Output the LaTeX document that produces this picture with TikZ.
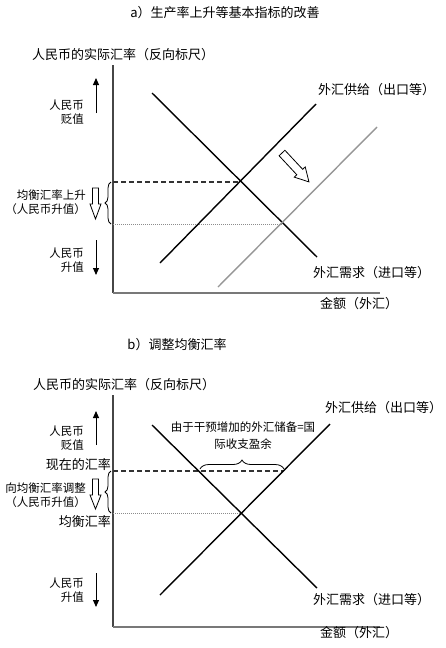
\documentclass[tikz,border=0pt]{standalone}
\usepackage{fontspec}
\setmainfont{Noto Sans CJK SC}
\usetikzlibrary{arrows.meta,decorations.pathreplacing}
\definecolor{axgray}{RGB}{120,120,120}
\definecolor{ygray}{RGB}{70,70,70}
\definecolor{shiftgray}{RGB}{150,150,150}
\definecolor{dotgray}{RGB}{140,140,140}
\begin{document}
\begin{tikzpicture}[x=1pt,y=-1pt,
  font=\fontsize{13}{15}\selectfont,
  lbl/.style={inner sep=0pt},
  rlbl/.style={inner sep=0pt, align=right, anchor=east},
  smalltxt/.style={font=\fontsize{11.5}{14.5}\selectfont},
  curve/.style={line width=1.4pt, black},
  shiftcurve/.style={line width=1.4pt, shiftgray},
  yax/.style={line width=1.3pt, ygray},
  xax/.style={line width=1.8pt, axgray},
  dashline/.style={line width=1.1pt, black!80, dash pattern=on 5pt off 3pt},
  dotline/.style={line width=1pt, dotgray, dash pattern=on 1pt off 1pt},
  smallarrow/.style={line width=1pt, -{Triangle[length=7pt,width=6pt]}},
  hollowline/.style={line width=0.8pt, black, line join=miter, fill=white},
  bracestyle/.style={line width=0.8pt, decorate, decoration={brace, amplitude=#1}},
  bracestyle/.default=6pt
]
\useasboundingbox (0,0) rectangle (446,648);

% ================= Panel a =================
\node[lbl] (ta) at (225,13) {a）生产率上升等基本指标的改善};
\node[lbl, anchor=west] (yla) at (32,55) {人民币的实际汇率（反向标尺）};
\coordinate (ya) at (113,65);
\coordinate (oa) at (113,293);
\coordinate (xa) at (380,293);
\draw[yax] (ya) -- (oa);
\draw[xax] (oa) -- (xa);

\coordinate (d1s) at (152,93);  \coordinate (d1e) at (317,257);
\coordinate (s1s) at (160,263); \coordinate (s1e) at (316,104);
\coordinate (s2s) at (218,287); \coordinate (s2e) at (377,127);
\coordinate (e1) at (241,182);  \coordinate (e2) at (283,224);
\coordinate (e1y) at (113,182); \coordinate (e2y) at (113,224);

\draw[dashline] (e1y) -- (e1);
\draw[dotline] (e2y) -- (e2);
\draw[curve] (d1s) -- (d1e);
\draw[curve] (s1s) -- (s1e);
\draw[shiftcurve] (s2s) -- (s2e);

% diagonal hollow arrow (shift of supply)
\begin{scope}[shift={(282,153)}, rotate=-47]
  \draw[hollowline] (0,-4) -- (26,-4) -- (26,-7.5) -- (39.5,0) -- (26,7.5) -- (26,4) -- (0,4) -- cycle;
\end{scope}

\node[lbl, anchor=west] (supa) at (318,90) {外汇供给（出口等）};
\node[lbl, anchor=west] (dema) at (313,273) {外汇需求（进口等）};
\node[lbl, anchor=west] (xla) at (320,304) {金额（外汇）};

\node[rlbl, smalltxt] (depa) at (84,112) {人民币\\贬值};
\coordinate (uaf) at (96,113); \coordinate (uat) at (96,78);
\draw[smallarrow] (uaf) -- (uat);

\node[rlbl, smalltxt] (eqa) at (86,202) {均衡汇率上升\\（人民币升值）};
\begin{scope}[shift={(95.5,188)}, rotate=-90]
  \draw[hollowline] (0,-3) -- (16,-3) -- (16,-5.5) -- (31,0) -- (16,5.5) -- (16,3) -- (0,3) -- cycle;
\end{scope}
\coordinate (bab) at (111,224); \coordinate (bat) at (111,182);
\draw[bracestyle] (bab) -- (bat);

\node[rlbl, smalltxt] (appa) at (84,260) {人民币\\升值};
\coordinate (daf) at (96,240); \coordinate (dat) at (96,275);
\draw[smallarrow] (daf) -- (dat);

% ================= Panel b =================
\node[lbl] (tb) at (177,345) {b）调整均衡汇率};
\node[lbl, anchor=west] (ylb) at (33,385) {人民币的实际汇率（反向标尺）};
\coordinate (yb) at (113,395);
\coordinate (ob) at (113,627);
\coordinate (xb) at (380,627);
\draw[yax] (yb) -- (ob);
\draw[xax] (ob) -- (xb);

\coordinate (d2s) at (152,425); \coordinate (d2e) at (317,588);
\coordinate (s3s) at (160,595); \coordinate (s3e) at (330,424);
\coordinate (e3) at (241,513);  \coordinate (p3) at (283,471);
\coordinate (e3y) at (113,513); \coordinate (p3y) at (113,471);

\draw[dashline] (p3y) -- (p3);
\draw[dotline] (e3y) -- (e3);
\draw[curve] (d2s) -- (d2e);
\draw[curve] (s3s) -- (s3e);

\coordinate (bbl) at (200,469); \coordinate (bbr) at (284,469);
\draw[bracestyle=9pt] (bbl) -- (bbr);
\node[lbl, align=center, font=\fontsize{11.5}{17}\selectfont] (res) at (243,436) {由于干预增加的外汇储备=国\\际收支盈余};

\node[lbl, anchor=west] (supb) at (325,408) {外汇供给（出口等）};
\node[lbl, anchor=west] (demb) at (313,600) {外汇需求（进口等）};
\node[lbl, anchor=west] (xlb) at (320,633) {金额（外汇）};

\node[rlbl, smalltxt] (depb) at (84,438) {人民币\\贬值};
\coordinate (ubf) at (96,445); \coordinate (ubt) at (96,411);
\draw[smallarrow] (ubf) -- (ubt);

\node[rlbl] (cur) at (111,465) {现在的汇率};
\node[rlbl, smalltxt] (adj) at (86,495) {向均衡汇率调整\\（人民币升值）};
\node[rlbl] (eqb) at (111,522) {均衡汇率};
\begin{scope}[shift={(95.5,479)}, rotate=-90]
  \draw[hollowline] (0,-3) -- (16,-3) -- (16,-5.5) -- (30,0) -- (16,5.5) -- (16,3) -- (0,3) -- cycle;
\end{scope}
\coordinate (bbb) at (111,513); \coordinate (bbt) at (111,471);
\draw[bracestyle] (bbb) -- (bbt);

\node[rlbl, smalltxt] (appb) at (84,590) {人民币\\升值};
\coordinate (dbf) at (96,573); \coordinate (dbt) at (96,607);
\draw[smallarrow] (dbf) -- (dbt);
\end{tikzpicture}
\end{document}
